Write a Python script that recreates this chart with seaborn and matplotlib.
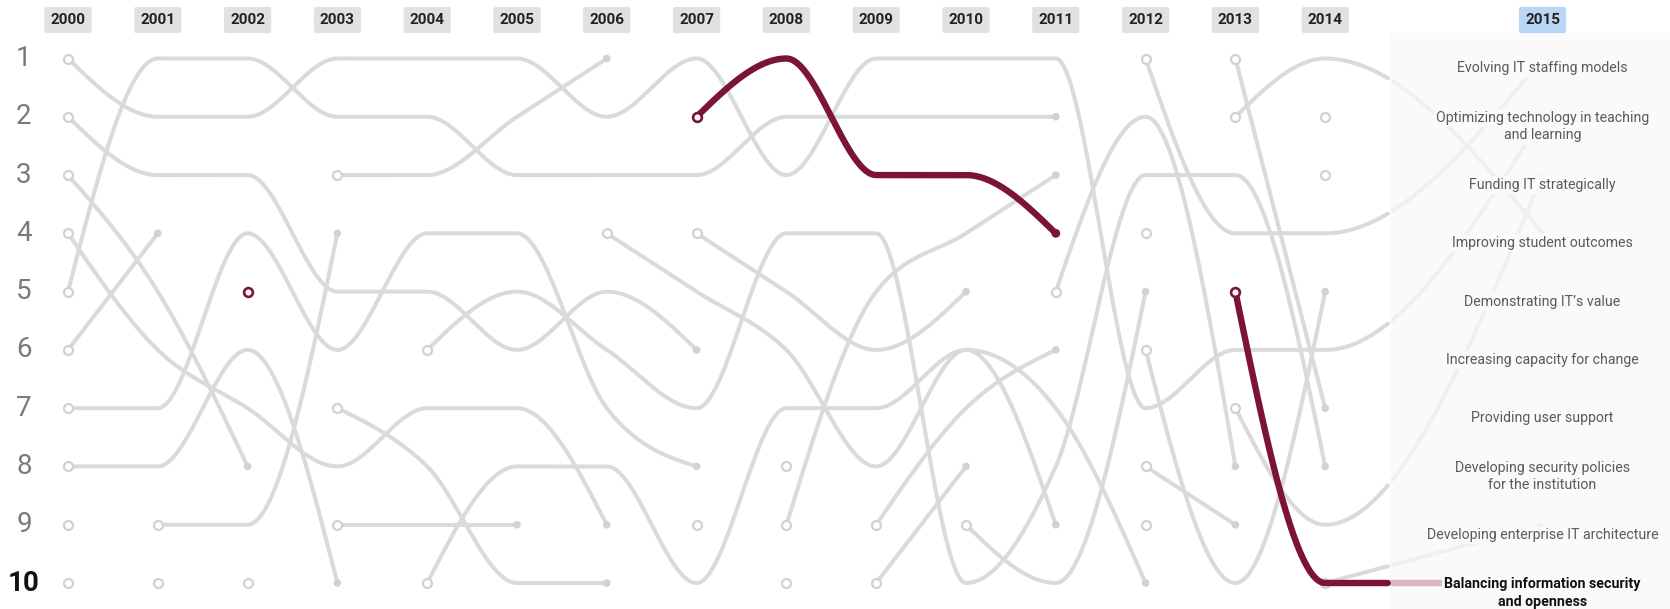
import numpy as np
import pandas as pd
import matplotlib
matplotlib.use("Agg")
import matplotlib.pyplot as plt
import seaborn as sns

# ---------------- data ----------------
years = list(range(2000, 2016))
rank_labels = [str(i) for i in range(1, 11)]
labels_2015 = [
    "Evolving IT staffing models",
    "Optimizing technology in teaching\nand learning",
    "Funding IT strategically",
    "Improving student outcomes",
    "Demonstrating IT\u2019s value",
    "Increasing capacity for change",
    "Providing user support",
    "Developing security policies\nfor the institution",
    "Developing enterprise IT architecture",
    "Balancing information security\nand openness",
]

# grey issues: (first year, ranks in consecutive years)
issue_a = (2000, [1, 2, 2, 1, 1, 1, 2, 1, 3, 1, 1, 1, 7, 6, 6, 2])
issue_b = (2000, [2, 3, 3, 5, 5, 6, 5, 6])
issue_c = (2000, [3, 5, 8])
issue_d = (2000, [4, 6, 7, 8, 7, 7, 9])
issue_e = (2000, [5, 1, 1, 2, 2, 3, 3, 3, 2, 2, 2, 2])
issue_f = (2000, [6, 4])
issue_g = (2000, [7, 7, 4, 6, 4, 4, 7, 8])
issue_h = (2000, [8, 8, 6, 10])
issue_i = (2000, [9])
issue_j = (2000, [10])
issue_k = (2001, [9, 9, 4])
issue_l = (2001, [10])
issue_m = (2002, [10])
issue_n = (2003, [3, 3, 2, 1])
issue_o = (2003, [7, 8, 10, 10])
issue_p = (2003, [9, 9, 9])
issue_q = (2004, [6, 5, 6, 7, 4, 4, 10, 8, 3, 3, 8])
issue_r = (2004, [10, 8, 8, 10, 7, 7, 6, 7, 10])
issue_s = (2006, [4, 5, 6, 8, 6, 9])
issue_t = (2007, [4, 5, 6, 5])
issue_u = (2007, [9])
issue_v = (2008, [8])
issue_w = (2008, [9, 5, 4, 3])
issue_x = (2008, [10])
issue_y = (2009, [9, 7, 6])
issue_z = (2009, [10, 8])
issue_aa = (2010, [9, 10, 5])
issue_ab = (2011, [5, 2, 8])
issue_ac = (2012, [1, 4, 4, 1])
issue_ad = (2012, [4])
issue_ae = (2012, [6, 10, 5])
issue_af = (2012, [8, 9])
issue_ag = (2012, [9])
issue_ah = (2013, [1, 7])
issue_ai = (2013, [2, 1, 4])
issue_aj = (2013, [7, 9, 3])
issue_ak = (2014, [2])
issue_al = (2014, [3])
issue_am = (2014, [10, 9])

# highlighted issue: "Balancing information security and openness"
highlight_ranks = [None, None, 5, None, None, None, None, 2, 1, 3, 3, 4, None, 5, 10, 10]

grey_issues = [issue_a, issue_b, issue_c, issue_d, issue_e, issue_f, issue_g, issue_h,
               issue_i, issue_j, issue_k, issue_l, issue_m, issue_n, issue_o, issue_p,
               issue_q, issue_r, issue_s, issue_t, issue_u, issue_v, issue_w, issue_x,
               issue_y, issue_z, issue_aa, issue_ab, issue_ac, issue_ad, issue_ae,
               issue_af, issue_ag, issue_ah, issue_ai, issue_aj, issue_ak, issue_al,
               issue_am]

# ---------------- layout / style ----------------
GAP_2015 = 2.42          # 2015 column sits further right
FADE_X = 14.72           # lines fade out beyond this x
GREY = "#dadada"
GREY_FADE = "#f0f0f0"
RED = "#7b1435"
RED_FADE = "#dcb8c3"
PANEL = "#fafafa"
LABEL_SHIFT = 0.17       # label blocks sit slightly below their rank
LINE_STEP = 0.30


def xpos(year):
    return (year - 2000) if year <= 2014 else 14 + GAP_2015


def monotone_x(xs, ys, n=60):
    """d3.curveMonotoneX sampled densely."""
    xs = np.asarray(xs, float)
    ys = np.asarray(ys, float)
    m = len(xs)
    if m == 1:
        return xs, ys
    if m == 2:
        return np.linspace(xs[0], xs[1], n), np.linspace(ys[0], ys[1], n)
    h = np.diff(xs)
    s = np.diff(ys) / h
    t = np.zeros(m)
    sg = lambda v: -1.0 if v < 0 else 1.0
    for i in range(1, m - 1):
        h0, h1, s0, s1 = h[i - 1], h[i], s[i - 1], s[i]
        p = (s0 * h1 + s1 * h0) / (h0 + h1)
        t[i] = (sg(s0) + sg(s1)) * min(abs(s0), abs(s1), 0.5 * abs(p))
    t[0] = (3 * s[0] - t[1]) / 2
    t[-1] = (3 * s[-1] - t[-2]) / 2
    px, py = [], []
    u = np.linspace(0, 1, n)
    h00 = 2 * u**3 - 3 * u**2 + 1
    h10 = u**3 - 2 * u**2 + u
    h01 = -2 * u**3 + 3 * u**2
    h11 = u**3 - u**2
    for i in range(m - 1):
        px.append(xs[i] + u * h[i])
        py.append(h00 * ys[i] + h10 * h[i] * t[i] + h01 * ys[i + 1] + h11 * h[i] * t[i + 1])
    return np.concatenate(px), np.concatenate(py)


def segments_from_full(ranks):
    segs, cur = [], []
    for yr, r in zip(years, ranks):
        if r is None:
            if cur:
                segs.append(cur)
            cur = []
        else:
            cur.append((yr, r))
    if cur:
        segs.append(cur)
    return segs


def segment_from_issue(issue):
    start, ranks = issue
    return [(start + i, r) for i, r in enumerate(ranks)]


# ---------------- figure ----------------
sns.set_theme(style="white")
plt.rcParams["font.family"] = ["Roboto", "DejaVu Sans"]

fig = plt.figure(figsize=(16.7, 6.09), dpi=100)
ax = fig.add_axes([0, 0, 1, 1])
ax.set_xlim(-68 / 89.8, (1670 - 68) / 89.8)
ax.set_ylim(1 + (609 - 58.5) / 58.28, 1 - 58.5 / 58.28)
ax.axis("off")

# light panel behind the 2015 labels
ax.add_patch(plt.Rectangle((FADE_X, 0.56), 10, 12, facecolor=PANEL, edgecolor="none", zorder=0))


def draw_segment(seg, color, fade_color, lw, z):
    xs = [xpos(y) for y, _ in seg]
    ys = [r for _, r in seg]
    if len(seg) < 2:
        return
    cx, cy = monotone_x(xs, ys)
    solid = cx <= FADE_X
    if solid.any():
        ax.plot(cx[solid], cy[solid], color=color, lw=lw, solid_capstyle="round",
                solid_joinstyle="round", zorder=z)
    faded = cx >= FADE_X
    if faded.any():
        ax.plot(cx[faded], cy[faded], color=fade_color, lw=lw, solid_capstyle="butt", zorder=z - 0.5)


starts, ends = [], []
for issue in grey_issues:
    seg = segment_from_issue(issue)
    draw_segment(seg, GREY, GREY_FADE, 2.9, 2)
    starts.append((xpos(seg[0][0]), seg[0][1]))
    if len(seg) > 1 and seg[-1][0] < 2015:
        ends.append((xpos(seg[-1][0]), seg[-1][1]))

start_df = pd.DataFrame(starts, columns=["x", "rank"])
end_df = pd.DataFrame(ends, columns=["x", "rank"])
sns.scatterplot(data=end_df, x="x", y="rank", s=30, color="#d2d2d2", edgecolor="none",
                ax=ax, zorder=3, legend=False)
sns.scatterplot(data=start_df, x="x", y="rank", s=42, color="white", edgecolor="#d2d2d2",
                linewidth=1.6, ax=ax, zorder=3, legend=False)

# highlighted issue
red_starts, red_ends = [], []
for seg in segments_from_full(highlight_ranks):
    draw_segment(seg, RED, RED_FADE, 4.6, 6)
    red_starts.append((xpos(seg[0][0]), seg[0][1]))
    if len(seg) > 1 and seg[-1][0] < 2015:
        red_ends.append((xpos(seg[-1][0]), seg[-1][1]))
sns.scatterplot(data=pd.DataFrame(red_ends, columns=["x", "rank"]), x="x", y="rank", s=40,
                color=RED, edgecolor="none", ax=ax, zorder=7, legend=False)
sns.scatterplot(data=pd.DataFrame(red_starts, columns=["x", "rank"]), x="x", y="rank", s=40,
                color="white", edgecolor=RED, linewidth=1.9, ax=ax, zorder=7, legend=False)

# year headers
for yr in years:
    fc = "#b9d6f5" if yr == 2015 else "#e1e1e1"
    ax.text(xpos(yr), 0.34, str(yr), ha="center", va="center", fontsize=11,
            fontweight="bold", color="#222222", zorder=8,
            bbox=dict(boxstyle="round,pad=0.4,rounding_size=0.15", fc=fc, ec="none"))

# rank labels on the left
for i, lab in enumerate(rank_labels):
    r = i + 1
    if r == 10:
        ax.text(-0.49, r, lab, ha="center", va="center", fontsize=20, fontweight="bold",
                color="#111111", zorder=8)
    else:
        ax.text(-0.49, r, lab, ha="center", va="center", fontsize=20, fontweight="normal",
                color="#7a7a7a", zorder=8)

# 2015 labels
for i, lab in enumerate(labels_2015):
    r = i + 1
    bold = r == 10
    lines = lab.split("\n")
    top = r + LABEL_SHIFT - (len(lines) - 1) * LINE_STEP / 2
    for j, line in enumerate(lines):
        ax.text(xpos(2015), top + j * LINE_STEP, line, ha="center", va="center", fontsize=10.2,
                fontweight="bold" if bold else "normal",
                color="#111111" if bold else "#5a5a5a", zorder=9,
                bbox=dict(boxstyle="square,pad=0.15", fc=PANEL, ec="none"))

fig.savefig("out.png", dpi=100)
